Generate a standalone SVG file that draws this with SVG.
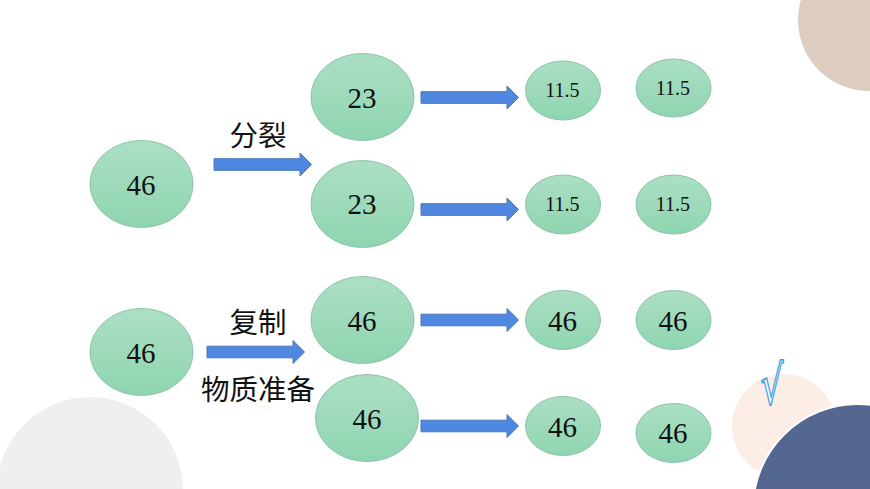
<svg xmlns="http://www.w3.org/2000/svg" width="870" height="489" viewBox="0 0 870 489">
<style>
.n{fill:url(#g);stroke:#8cc4a8;stroke-width:1}
.a{fill:#4f88e0;stroke:#4a78b8;stroke-width:1}
text{font-family:"Liberation Serif","Noto Sans CJK SC",serif;fill:#111;text-anchor:middle}
.big{font-size:29px}
.sm{font-size:20px}
.cn{font-family:"Noto Sans CJK SC","Noto Sans CJK TC",sans-serif;font-size:28.500px}
</style>
<defs><linearGradient id="g" x1="0" y1="0" x2="0" y2="1"><stop offset="0" stop-color="#abdfc4"/><stop offset="1" stop-color="#8fd5b1"/></linearGradient>
<path id="ar" class="a" d="M0-5.800H86V-11.500L97.500 0L86 11.500V5.800H0Z"/></defs>
<rect width="870" height="489" fill="#fff"/>
<g id="decor">
<circle cx="869" cy="20" r="71" fill="#dccdc0"/>
<circle cx="90" cy="490" r="93" fill="#efefef"/>
<circle cx="784" cy="426" r="52" fill="#fceee6"/>
<circle cx="858" cy="509" r="105" fill="#546791" stroke="#fff" stroke-width="2"/>
</g>
<g id="connectors">
<use href="#ar" x="214" y="164.500"/>
<use href="#ar" x="421" y="97.500"/>
<use href="#ar" x="421" y="209.500"/>
<use href="#ar" x="207" y="352"/>
<use href="#ar" x="421" y="320"/>
<use href="#ar" x="421" y="426"/>
</g>
<g id="n1"><ellipse class="n" cx="141.500" cy="184" rx="51.500" ry="43.500"/><text class="big" x="141" y="195">46</text></g>
<g id="n2"><ellipse class="n" cx="362.500" cy="97" rx="51.500" ry="43.500"/><text class="big" x="362" y="108">23</text></g>
<g id="n3"><ellipse class="n" cx="362.500" cy="204" rx="51.500" ry="43.500"/><text class="big" x="362" y="214">23</text></g>
<g id="n4"><ellipse class="n" cx="563" cy="90.500" rx="37.500" ry="29.500"/><text class="sm" x="562.500" y="97">11.5</text></g>
<g id="n5"><ellipse class="n" cx="673.500" cy="88" rx="37.500" ry="29"/><text class="sm" x="673" y="95">11.5</text></g>
<g id="n6"><ellipse class="n" cx="563" cy="204.500" rx="37.500" ry="29.500"/><text class="sm" x="562.500" y="211">11.5</text></g>
<g id="n7"><ellipse class="n" cx="673.500" cy="204.500" rx="37.500" ry="29.500"/><text class="sm" x="673" y="211">11.5</text></g>
<g id="n8"><ellipse class="n" cx="141.500" cy="352" rx="51.500" ry="43.500"/><text class="big" x="141" y="363">46</text></g>
<g id="n9"><ellipse class="n" cx="362.500" cy="320" rx="51.500" ry="43.500"/><text class="big" x="362" y="331">46</text></g>
<g id="n10"><ellipse class="n" cx="367" cy="418" rx="51.500" ry="43.500"/><text class="big" x="367" y="429">46</text></g>
<g id="n11"><ellipse class="n" cx="563" cy="320" rx="37.500" ry="29.500"/><text class="big" x="562.500" y="331">46</text></g>
<g id="n12"><ellipse class="n" cx="673.500" cy="320" rx="37.500" ry="29.500"/><text class="big" x="673" y="331">46</text></g>
<g id="n13"><ellipse class="n" cx="563" cy="426" rx="37.500" ry="29.500"/><text class="big" x="562.500" y="437">46</text></g>
<g id="n14"><ellipse class="n" cx="673.500" cy="433" rx="37.500" ry="29.500"/><text class="big" x="673" y="443">46</text></g>
<g id="labels">
<text class="cn" x="258" y="146">分裂</text>
<text class="cn" x="258" y="333">复制</text>
<text class="cn" x="258" y="400">物质准备</text>
<text transform="translate(772 404) scale(.78 1.18)" style="font-family:'DejaVu Sans',sans-serif;font-size:46px;fill:#fff;stroke:#3fa4e4;stroke-width:1.500">√</text>
</g>
</svg>
